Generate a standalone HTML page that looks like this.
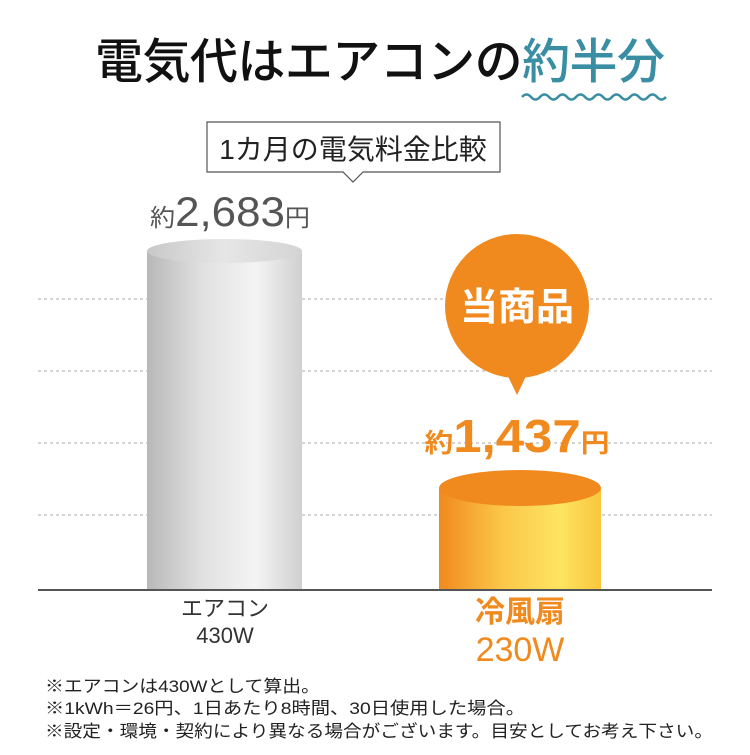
<!DOCTYPE html>
<html><head><meta charset="utf-8"><style>
body{margin:0;background:#fff;}
svg text{font-family:"Liberation Sans","Noto Sans CJK JP",sans-serif;}
</style></head><body>
<svg width="750" height="750" viewBox="0 0 750 750" xmlns="http://www.w3.org/2000/svg">
<defs>
<linearGradient id="g" x1="0" x2="1">
<stop offset="0" stop-color="#b8b8b8"/><stop offset="0.35" stop-color="#e0e0e0"/><stop offset="0.7" stop-color="#f4f4f4"/><stop offset="1" stop-color="#d0d0d0"/>
</linearGradient>
<linearGradient id="gt" x1="0" x2="1">
<stop offset="0" stop-color="#c8c8c8"/><stop offset="0.5" stop-color="#e6e6e6"/><stop offset="1" stop-color="#d4d4d4"/>
</linearGradient>
<linearGradient id="o" x1="0" x2="1">
<stop offset="0" stop-color="#f08a1e"/><stop offset="0.4" stop-color="#fcc84a"/><stop offset="0.75" stop-color="#fde462"/><stop offset="1" stop-color="#f9c63c"/>
</linearGradient>
</defs>
<text x="380" y="78" font-size="48" text-anchor="middle" font-weight="500" fill="#111" textLength="570" lengthAdjust="spacing"><tspan>電気代はエアコンの</tspan><tspan fill="#3a8ea3">約半分</tspan></text>
<path d="M522 97 q4.5 -5 9 0 t9 0 t9 0 t9 0 t9 0 t9 0 t9 0 t9 0 t9 0 t9 0 t9 0 t9 0 t9 0 t9 0 t9 0 t9 0" fill="none" stroke="#3a8ea3" stroke-width="2.5"/>
<path d="M207 122 H500 V172 H363 L353 182 L343 172 H207 Z" fill="#fff" stroke="#555" stroke-width="1.2"/>
<text x="353" y="159" font-size="28" text-anchor="middle" fill="#222">1カ月の電気料金比較</text>
<g stroke="#aaa" stroke-width="1" stroke-dasharray="3,3">
<line x1="38" y1="299" x2="712" y2="299"/><line x1="38" y1="371" x2="712" y2="371"/>
<line x1="38" y1="443" x2="712" y2="443"/><line x1="38" y1="515" x2="712" y2="515"/>
</g>
<rect x="147" y="251" width="155" height="339" fill="url(#g)"/>
<ellipse cx="224.5" cy="251" rx="77.5" ry="12" fill="url(#gt)"/>
<text x="230" y="226" font-size="42" text-anchor="middle" fill="#555" textLength="160" lengthAdjust="spacingAndGlyphs"><tspan font-size="24">約</tspan>2,683<tspan font-size="24">円</tspan></text>
<rect x="439" y="488" width="162" height="102" fill="url(#o)"/>
<ellipse cx="520" cy="488" rx="81" ry="18" fill="#f08a1e"/>
<circle cx="517" cy="306" r="72" fill="#f08a1e"/>
<path d="M505 370 L517 395 L529 370 Z" fill="#f08a1e"/>
<text x="517" y="320" font-size="38" text-anchor="middle" font-weight="bold" fill="#fff">当商品</text>
<text x="517" y="452" font-size="46" text-anchor="middle" font-weight="bold" fill="#f08a1e" textLength="185" lengthAdjust="spacingAndGlyphs"><tspan font-size="26">約</tspan>1,437<tspan font-size="26">円</tspan></text>
<line x1="38" y1="590" x2="712" y2="590" stroke="#555" stroke-width="2"/>
<text x="225" y="616" font-size="22" text-anchor="middle" fill="#333">エアコン</text>
<text x="225" y="643" font-size="22" text-anchor="middle" fill="#333">430W</text>
<text x="520" y="622" font-size="30" text-anchor="middle" font-weight="bold" fill="#f08a1e">冷風扇</text>
<text x="520" y="661" font-size="34" text-anchor="middle" fill="#f08a1e">230W</text>
<text x="45" y="692" font-size="17" fill="#222" textLength="275" lengthAdjust="spacingAndGlyphs">※エアコンは430Wとして算出。</text>
<text x="45" y="714" font-size="17" fill="#222" textLength="480" lengthAdjust="spacingAndGlyphs">※1kWh＝26円、1日あたり8時間、30日使用した場合。</text>
<text x="45" y="737" font-size="17" fill="#222" textLength="668" lengthAdjust="spacingAndGlyphs">※設定・環境・契約により異なる場合がございます。目安としてお考え下さい。</text>
</svg>
</body></html>
